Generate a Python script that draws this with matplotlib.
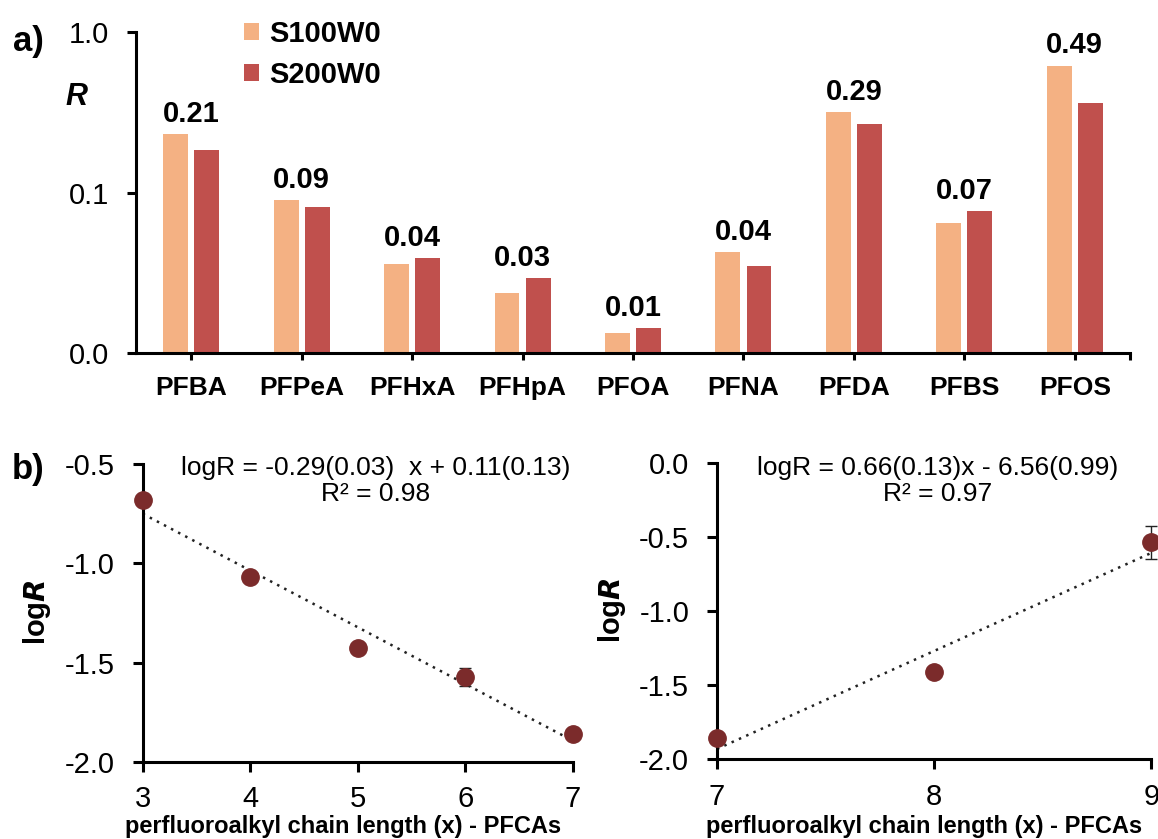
import numpy as np
import matplotlib
matplotlib.use("Agg")
import matplotlib.pyplot as plt
from matplotlib.ticker import FixedLocator, FuncFormatter

plt.rcParams['font.family'] = ['Liberation Sans', 'DejaVu Sans']
plt.rcParams['axes.unicode_minus'] = False

# ---- data -------------------------------------------------------------
compounds = ['PFBA', 'PFPeA', 'PFHxA', 'PFHpA', 'PFOA', 'PFNA', 'PFDA', 'PFBS', 'PFOS']
r_s100w0 = [0.231, 0.0897, 0.036, 0.0239, 0.0134, 0.0425, 0.318, 0.0645, 0.619]
r_s200w0 = [0.186, 0.0811, 0.039, 0.0294, 0.0143, 0.0351, 0.267, 0.0769, 0.363]
series_names = ['S100W0', 'S200W0']

# PFCAs used in the chain-length regressions
pfca_names = ['PFBA', 'PFPeA', 'PFHxA', 'PFHpA', 'PFOA', 'PFNA', 'PFDA']
chain_length = [3, 4, 5, 6, 7, 8, 9]
logr_err = [0.02, 0.02, 0.02, 0.045, 0.02, 0.02, 0.113]

eq_left = 'logR = -0.29(0.03)  x + 0.11(0.13)\nR² = 0.98'
eq_right = 'logR = 0.66(0.13)x - 6.56(0.99)\nR² = 0.97'

# ---- styling ----------------------------------------------------------
C100 = '#F4B183'
C200 = '#C0504D'
CPT = '#7B2B2B'
W, H = 1158, 839


def fx(px):
    return px / W


def fy(py):
    return 1 - py / H


fig = plt.figure(figsize=(W / 100, H / 100), dpi=100)

# ---- panel a: R per compound (log axis) ------------------------------
ax = fig.add_axes([fx(136), fy(353.3), fx(1130 - 136), (353.3 - 32.3) / H])
x = np.arange(len(compounds))
bw = 0.226
off = 0.141
ax.bar(x - off, r_s100w0, bw, color=C100, log=True, label=series_names[0], linewidth=0)
ax.bar(x + off, r_s200w0, bw, color=C200, log=True, label=series_names[1], linewidth=0)
ax.set_yscale('log')
ax.set_ylim(0.01, 1.0)
ax.set_xlim(-0.5, len(compounds) - 0.5)
ax.yaxis.set_major_locator(FixedLocator([0.01, 0.1, 1.0]))
ax.yaxis.set_minor_locator(FixedLocator([]))
ax.yaxis.set_major_formatter(FuncFormatter(lambda v, p: f'{v:.1f}'))
ax.set_xticks(list(x) + [len(compounds) - 0.5])
ax.set_xticklabels(compounds + [''], fontsize=19, fontweight='bold')
for s in ['top', 'right']:
    ax.spines[s].set_visible(False)
for s in ['left', 'bottom']:
    ax.spines[s].set_linewidth(2.2)
ax.tick_params(axis='y', direction='out', length=6.5, width=2.2, labelsize=21, pad=13)
ax.tick_params(axis='x', direction='out', length=5, width=2.2, pad=11)

means = [(a + b) / 2 for a, b in zip(r_s100w0, r_s200w0)]
for xi, a, b, m in zip(x, r_s100w0, r_s200w0, means):
    ax.annotate(f'{m:.2f}', (xi, max(a, b)), xytext=(0, 9), textcoords='offset points',
                ha='center', va='baseline', fontsize=21, fontweight='bold')

leg = ax.legend(loc='upper left', bbox_to_anchor=(fx(244), fy(20)), bbox_transform=fig.transFigure,
                frameon=False, prop={'weight': 'bold', 'size': 21}, handlelength=0.5,
                handleheight=0.5, handletextpad=0.35, labelspacing=0.45, borderpad=0,
                borderaxespad=0)

fig.text(fx(76), fy(97), 'R', fontsize=22, fontweight='bold', fontstyle='italic',
         ha='center', va='center')
fig.text(fx(28), fy(41), 'a)', fontsize=25, fontweight='bold', ha='center', va='center')
fig.text(fx(28), fy(469), 'b)', fontsize=25, fontweight='bold', ha='center', va='center')

# ---- panel b: logR vs chain length -----------------------------------
logr = {n: np.log10(m) for n, m in zip(compounds, means)}
cl = dict(zip(pfca_names, chain_length))
err = dict(zip(pfca_names, logr_err))


def regression_panel(rect, names, xlim, ylim, yticks, eq, eq_xy, ylab_xy, xlab_xy):
    a = fig.add_axes(rect)
    xs = np.array([cl[n] for n in names], dtype=float)
    ys = np.array([logr[n] for n in names])
    es = np.array([err[n] for n in names])
    k, b = np.polyfit(xs, ys, 1)
    xf = np.array(xlim, dtype=float)
    a.plot(xf, k * xf + b, linestyle=(0, (1, 2.2)), color='#222222', lw=1.8, zorder=2,
           clip_on=False)
    a.errorbar(xs, ys, yerr=es, fmt='none', ecolor='#222222', elinewidth=1.0, capsize=4,
               capthick=1.0, zorder=3, clip_on=False)
    a.plot(xs, ys, 'o', color=CPT, ms=12.5, mec=CPT, zorder=4, clip_on=False)
    a.set_xlim(*xlim)
    a.set_ylim(*ylim)
    a.set_xticks(range(xlim[0], xlim[1] + 1))
    a.set_yticks(yticks)
    a.yaxis.set_major_formatter(FuncFormatter(lambda v, p: f'{v:.1f}'))
    for s in ['top', 'right']:
        a.spines[s].set_visible(False)
    for s in ['left', 'bottom']:
        a.spines[s].set_linewidth(2.2)
    a.tick_params(axis='y', direction='out', length=7, width=2.2, labelsize=21, pad=13)
    a.tick_params(axis='x', direction='out', length=7, width=2.2, labelsize=21, pad=10)
    fig.text(fx(eq_xy[0]), fy(eq_xy[1]), eq, fontsize=19, ha='center', va='center',
             multialignment='center', linespacing=1.15)
    fig.text(fx(ylab_xy[0]), fy(ylab_xy[1]), r'log$\bfit{R}$', fontsize=21, fontweight='bold',
             rotation=90, ha='center', va='center')
    fig.text(fx(xlab_xy[0]), fy(xlab_xy[1]), 'perfluoroalkyl chain length (x) - PFCAs',
             fontsize=17, fontweight='bold', ha='center', va='center')
    return a


regression_panel([fx(142.7), fy(761.7), fx(572.7 - 142.7), (761.7 - 464.3) / H],
                 pfca_names[:5], (3, 7), (-2.0, -0.5), [-2.0, -1.5, -1.0, -0.5],
                 eq_left, (376, 481), (37, 612), (343, 827))
regression_panel([fx(717), fy(759.3), fx(1151.3 - 717), (759.3 - 463.3) / H],
                 pfca_names[4:], (7, 9), (-2.0, 0.0), [-2.0, -1.5, -1.0, -0.5, 0.0],
                 eq_right, (938, 481), (612, 610), (924, 827))

fig.savefig('out.png', dpi=100)
